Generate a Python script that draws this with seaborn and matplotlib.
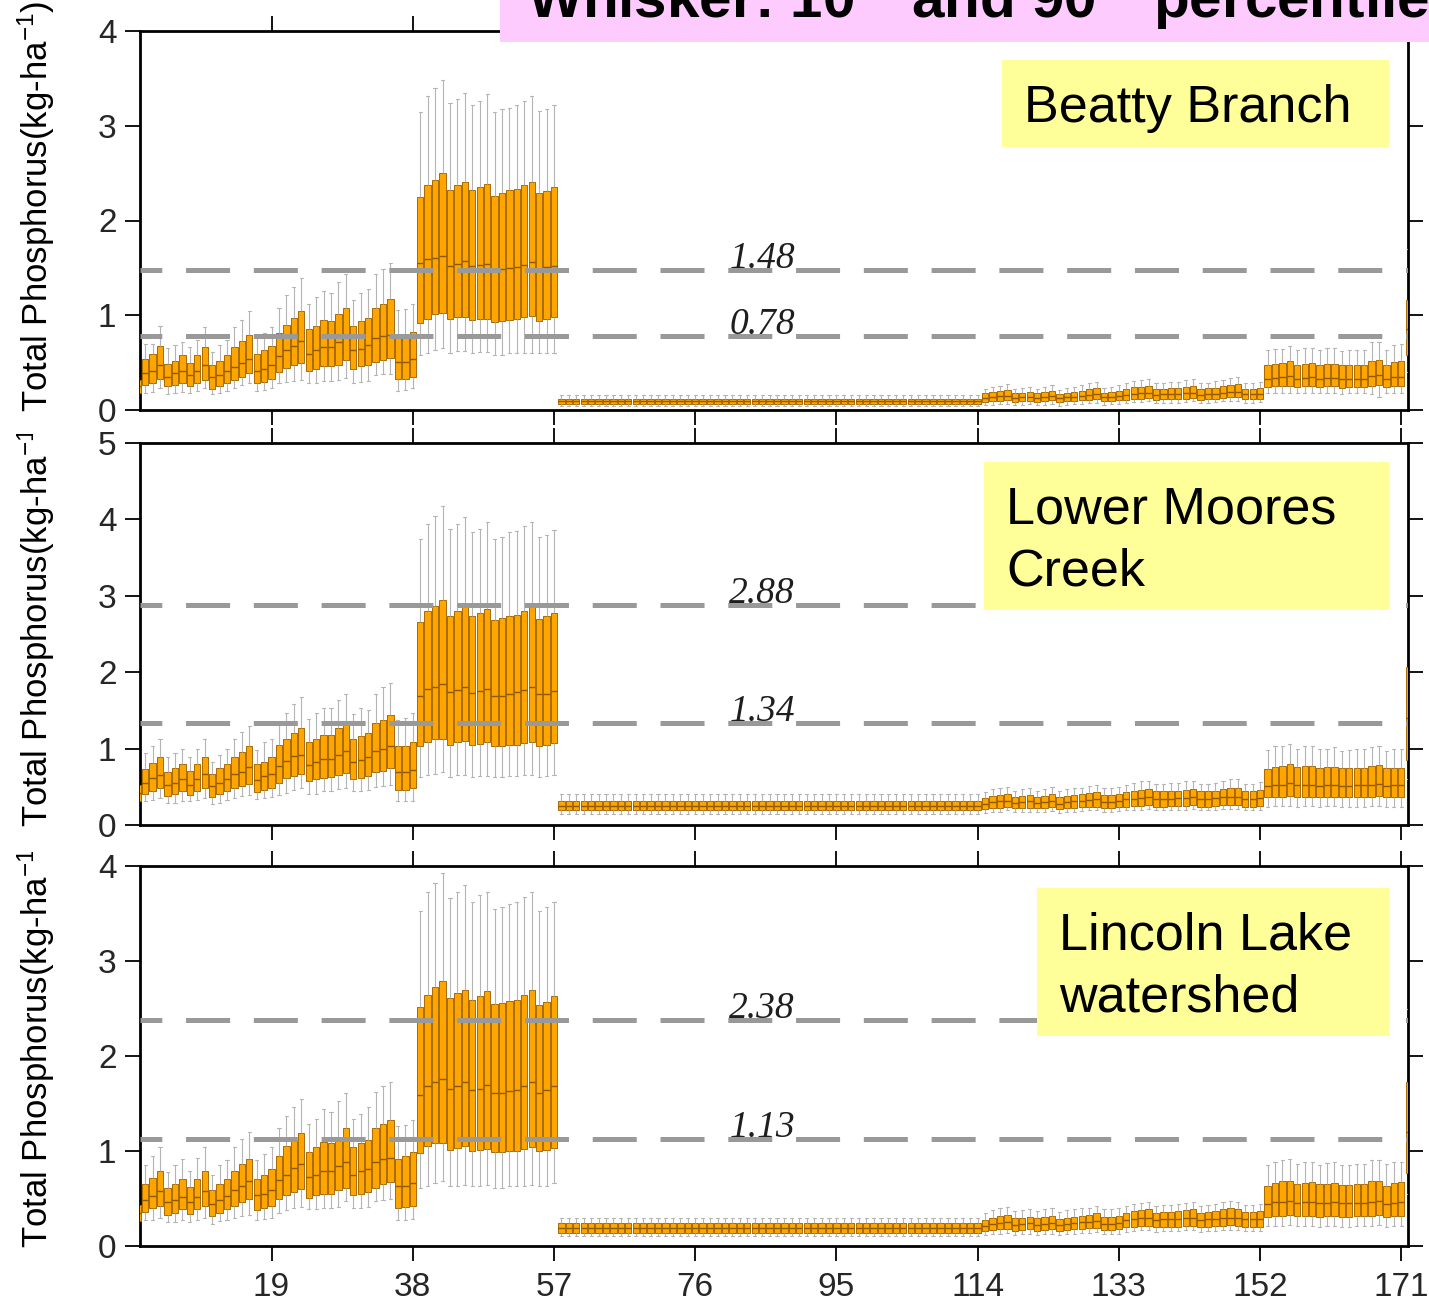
import matplotlib
matplotlib.use("Agg")
import matplotlib.pyplot as plt
from matplotlib.patches import Rectangle
from matplotlib.transforms import Bbox, TransformedBbox
import pandas as pd
import seaborn as sns

# ---------------------------------------------------------------------------
# Box statistics per simulation run (positions 1..172; 172 sits on the edge)
# ---------------------------------------------------------------------------
POSITIONS = list(range(1, 173))
XTICKS = [19, 38, 57, 76, 95, 114, 133, 152, 171]

# ---- Beatty Branch ---------------------------------------------------------
BB_Q1 = ([0.18, 0.26, 0.29, 0.33, 0.25, 0.26, 0.29, 0.25, 0.29, 0.32, 0.22, 0.25, 0.29, 0.32, 0.35, 0.39, 0.28, 0.30, 0.33,
          0.40, 0.44, 0.47, 0.50, 0.41, 0.43, 0.46, 0.46, 0.48, 0.53, 0.43, 0.46, 0.47, 0.51, 0.53, 0.55, 0.33, 0.33, 0.35,
          0.92, 0.96, 1.01, 1.02, 0.96, 0.98, 0.98, 0.95, 0.96, 0.96, 0.93, 0.94, 0.95, 0.96, 0.98, 0.99, 0.94, 0.96, 0.98]
         + [0.065] * 57
         + [0.088, 0.095, 0.098, 0.105, 0.088, 0.095, 0.098, 0.088, 0.095, 0.105, 0.08, 0.09, 0.098, 0.105, 0.11, 0.115, 0.095, 0.098, 0.105,
            0.11, 0.12, 0.12, 0.13, 0.11, 0.115, 0.115, 0.115, 0.12, 0.13, 0.11, 0.115, 0.12, 0.13, 0.133, 0.137, 0.115, 0.115, 0.12]
         + [0.24, 0.25, 0.25, 0.25, 0.24, 0.25, 0.25, 0.24, 0.25, 0.25, 0.235, 0.24, 0.24, 0.24, 0.25, 0.26, 0.24, 0.25, 0.25]
         + [0.58])
BB_MED = ([0.25, 0.39, 0.41, 0.48, 0.35, 0.39, 0.41, 0.37, 0.41, 0.47, 0.35, 0.37, 0.41, 0.45, 0.50, 0.54, 0.41, 0.43, 0.48,
           0.57, 0.63, 0.68, 0.73, 0.59, 0.63, 0.67, 0.67, 0.72, 0.77, 0.63, 0.64, 0.69, 0.76, 0.78, 0.79, 0.51, 0.51, 0.54,
           1.55, 1.59, 1.60, 1.63, 1.52, 1.54, 1.57, 1.52, 1.53, 1.54, 1.48, 1.49, 1.50, 1.51, 1.53, 1.56, 1.49, 1.51, 1.52]
          + [0.095] * 57
          + [0.13, 0.14, 0.145, 0.15, 0.13, 0.135, 0.14, 0.13, 0.14, 0.15, 0.125, 0.135, 0.14, 0.15, 0.16, 0.165, 0.135, 0.14, 0.15,
             0.16, 0.17, 0.175, 0.18, 0.16, 0.165, 0.17, 0.17, 0.175, 0.18, 0.16, 0.165, 0.17, 0.18, 0.19, 0.195, 0.165, 0.165, 0.17]
          + [0.33, 0.34, 0.35, 0.36, 0.33, 0.34, 0.35, 0.33, 0.34, 0.34, 0.33, 0.33, 0.33, 0.33, 0.36, 0.37, 0.33, 0.35, 0.35]
          + [0.85])
BB_Q3 = ([0.32, 0.54, 0.59, 0.68, 0.49, 0.52, 0.58, 0.50, 0.58, 0.66, 0.47, 0.52, 0.58, 0.66, 0.73, 0.79, 0.59, 0.63, 0.68,
          0.81, 0.90, 0.97, 1.04, 0.85, 0.89, 0.95, 0.94, 1.01, 1.08, 0.89, 0.94, 0.97, 1.08, 1.12, 1.17, 0.77, 0.77, 0.82,
          2.25, 2.37, 2.43, 2.50, 2.32, 2.37, 2.41, 2.32, 2.35, 2.39, 2.26, 2.29, 2.32, 2.33, 2.37, 2.41, 2.29, 2.31, 2.35]
         + [0.12] * 57
         + [0.175, 0.19, 0.20, 0.21, 0.175, 0.18, 0.19, 0.175, 0.185, 0.20, 0.17, 0.18, 0.19, 0.20, 0.22, 0.23, 0.18, 0.19, 0.20,
            0.22, 0.24, 0.245, 0.25, 0.22, 0.22, 0.23, 0.23, 0.245, 0.25, 0.22, 0.23, 0.235, 0.25, 0.26, 0.27, 0.22, 0.22, 0.23]
         + [0.47, 0.49, 0.50, 0.52, 0.48, 0.49, 0.50, 0.47, 0.49, 0.49, 0.47, 0.47, 0.47, 0.47, 0.52, 0.53, 0.47, 0.51, 0.52]
         + [1.16])
BB_LO = ([0.15, 0.18, 0.19, 0.23, 0.165, 0.18, 0.19, 0.18, 0.20, 0.23, 0.165, 0.18, 0.20, 0.23, 0.26, 0.28, 0.20, 0.21, 0.23,
          0.28, 0.30, 0.305, 0.32, 0.29, 0.29, 0.31, 0.31, 0.32, 0.34, 0.29, 0.30, 0.31, 0.37, 0.38, 0.38, 0.20, 0.21, 0.23,
          0.58, 0.60, 0.63, 0.65, 0.60, 0.62, 0.62, 0.60, 0.61, 0.61, 0.58, 0.58, 0.60, 0.60, 0.60, 0.60, 0.60, 0.60, 0.60]
         + [0.04] * 57
         + [0.05, 0.055, 0.06, 0.065, 0.05, 0.055, 0.06, 0.05, 0.055, 0.065, 0.045, 0.05, 0.06, 0.065, 0.07, 0.075, 0.055, 0.06, 0.065,
            0.07, 0.08, 0.08, 0.09, 0.07, 0.075, 0.075, 0.075, 0.08, 0.09, 0.07, 0.075, 0.08, 0.09, 0.09, 0.095, 0.075, 0.075, 0.08]
         + [0.175, 0.18, 0.18, 0.18, 0.175, 0.18, 0.18, 0.175, 0.18, 0.18, 0.17, 0.175, 0.175, 0.175, 0.17, 0.14, 0.175, 0.18, 0.18]
         + [0.40])
BB_HI = ([0.36, 0.70, 0.70, 0.89, 0.65, 0.69, 0.72, 0.66, 0.74, 0.88, 0.61, 0.69, 0.74, 0.88, 0.95, 1.04, 0.76, 0.81, 0.88,
          1.08, 1.21, 1.30, 1.39, 1.12, 1.19, 1.26, 1.24, 1.35, 1.44, 1.16, 1.24, 1.28, 1.44, 1.49, 1.55, 1.06, 1.07, 1.12,
          3.15, 3.31, 3.40, 3.48, 3.24, 3.28, 3.35, 3.22, 3.26, 3.33, 3.15, 3.18, 3.19, 3.22, 3.26, 3.31, 3.16, 3.18, 3.22]
         + [0.16] * 57
         + [0.22, 0.24, 0.25, 0.27, 0.22, 0.23, 0.24, 0.22, 0.24, 0.26, 0.21, 0.23, 0.24, 0.26, 0.28, 0.30, 0.23, 0.24, 0.26,
            0.28, 0.31, 0.32, 0.33, 0.28, 0.29, 0.30, 0.30, 0.32, 0.33, 0.28, 0.29, 0.31, 0.32, 0.34, 0.35, 0.28, 0.28, 0.30]
         + [0.63, 0.64, 0.64, 0.68, 0.63, 0.65, 0.65, 0.63, 0.65, 0.65, 0.62, 0.63, 0.63, 0.63, 0.72, 0.72, 0.63, 0.69, 0.70]
         + [1.70])

# ---- Lower Moores Creek ----------------------------------------------------
LM_Q1 = ([0.31, 0.41, 0.45, 0.48, 0.38, 0.41, 0.44, 0.39, 0.44, 0.48, 0.37, 0.41, 0.44, 0.48, 0.51, 0.54, 0.43, 0.46, 0.49,
          0.55, 0.61, 0.64, 0.67, 0.57, 0.60, 0.62, 0.63, 0.66, 0.68, 0.60, 0.62, 0.64, 0.69, 0.71, 0.74, 0.46, 0.46, 0.48,
          1.03, 1.08, 1.12, 1.13, 1.05, 1.08, 1.10, 1.05, 1.06, 1.08, 1.03, 1.04, 1.05, 1.05, 1.07, 1.08, 1.04, 1.05, 1.07]
         + [0.19] * 57
         + [0.205, 0.22, 0.227, 0.24, 0.22, 0.22, 0.227, 0.22, 0.22, 0.236, 0.21, 0.22, 0.227, 0.236, 0.24, 0.24, 0.22, 0.22, 0.236,
            0.24, 0.25, 0.253, 0.26, 0.24, 0.24, 0.25, 0.25, 0.253, 0.26, 0.24, 0.24, 0.25, 0.257, 0.26, 0.26, 0.24, 0.24, 0.25]
         + [0.36, 0.37, 0.37, 0.38, 0.37, 0.37, 0.37, 0.36, 0.37, 0.37, 0.36, 0.36, 0.37, 0.37, 0.37, 0.38, 0.36, 0.37, 0.37]
         + [0.85])
LM_MED = ([0.42, 0.55, 0.61, 0.66, 0.53, 0.55, 0.60, 0.53, 0.60, 0.67, 0.51, 0.55, 0.60, 0.67, 0.70, 0.76, 0.59, 0.64, 0.67,
           0.77, 0.84, 0.90, 0.92, 0.78, 0.83, 0.86, 0.86, 0.92, 0.97, 0.83, 0.85, 0.89, 0.97, 1.00, 1.03, 0.69, 0.69, 0.72,
           1.69, 1.78, 1.80, 1.85, 1.74, 1.77, 1.80, 1.73, 1.75, 1.78, 1.69, 1.69, 1.72, 1.74, 1.77, 1.80, 1.72, 1.72, 1.75]
          + [0.25] * 57
          + [0.28, 0.30, 0.31, 0.32, 0.29, 0.30, 0.31, 0.29, 0.30, 0.32, 0.28, 0.30, 0.31, 0.32, 0.33, 0.335, 0.30, 0.30, 0.32,
             0.335, 0.345, 0.355, 0.36, 0.34, 0.34, 0.345, 0.35, 0.355, 0.36, 0.34, 0.34, 0.35, 0.36, 0.37, 0.37, 0.34, 0.34, 0.355]
          + [0.51, 0.52, 0.53, 0.55, 0.52, 0.52, 0.53, 0.51, 0.52, 0.52, 0.51, 0.51, 0.52, 0.52, 0.53, 0.54, 0.51, 0.52, 0.52]
          + [1.40])
LM_Q3 = ([0.52, 0.73, 0.81, 0.89, 0.69, 0.74, 0.80, 0.71, 0.80, 0.89, 0.67, 0.74, 0.80, 0.89, 0.95, 1.03, 0.80, 0.83, 0.89,
          1.05, 1.13, 1.21, 1.27, 1.08, 1.13, 1.18, 1.18, 1.27, 1.31, 1.13, 1.17, 1.21, 1.33, 1.38, 1.44, 1.03, 1.03, 1.08,
          2.66, 2.80, 2.87, 2.95, 2.74, 2.80, 2.85, 2.74, 2.77, 2.83, 2.68, 2.71, 2.74, 2.75, 2.80, 2.85, 2.70, 2.73, 2.77]
         + [0.32] * 57
         + [0.35, 0.38, 0.39, 0.41, 0.37, 0.38, 0.39, 0.37, 0.38, 0.41, 0.36, 0.38, 0.39, 0.40, 0.42, 0.43, 0.39, 0.39, 0.41,
            0.43, 0.445, 0.46, 0.47, 0.44, 0.44, 0.445, 0.45, 0.46, 0.47, 0.44, 0.44, 0.45, 0.47, 0.48, 0.48, 0.44, 0.44, 0.46]
         + [0.73, 0.76, 0.77, 0.80, 0.755, 0.77, 0.77, 0.74, 0.755, 0.76, 0.74, 0.74, 0.75, 0.75, 0.77, 0.785, 0.74, 0.74, 0.75]
         + [2.07])
LM_LO = ([0.28, 0.31, 0.33, 0.35, 0.29, 0.29, 0.31, 0.31, 0.33, 0.35, 0.27, 0.29, 0.33, 0.35, 0.38, 0.39, 0.34, 0.35, 0.36,
          0.39, 0.42, 0.46, 0.48, 0.41, 0.41, 0.44, 0.44, 0.47, 0.49, 0.44, 0.45, 0.46, 0.50, 0.51, 0.52, 0.31, 0.31, 0.32,
          0.63, 0.65, 0.67, 0.69, 0.63, 0.65, 0.65, 0.63, 0.64, 0.64, 0.63, 0.63, 0.64, 0.64, 0.65, 0.65, 0.63, 0.64, 0.65]
         + [0.14] * 57
         + [0.155, 0.17, 0.175, 0.19, 0.17, 0.17, 0.175, 0.17, 0.17, 0.185, 0.16, 0.17, 0.175, 0.185, 0.19, 0.19, 0.17, 0.17, 0.185,
            0.19, 0.20, 0.20, 0.21, 0.19, 0.19, 0.20, 0.20, 0.20, 0.21, 0.19, 0.19, 0.20, 0.205, 0.21, 0.21, 0.19, 0.19, 0.20]
         + [0.24, 0.245, 0.245, 0.25, 0.24, 0.245, 0.245, 0.24, 0.245, 0.245, 0.235, 0.24, 0.24, 0.24, 0.245, 0.25, 0.235, 0.24, 0.24]
         + [0.60])
LM_HI = ([0.60, 0.94, 1.03, 1.13, 0.89, 0.94, 1.00, 0.89, 1.00, 1.13, 0.83, 0.92, 1.00, 1.13, 1.22, 1.30, 0.98, 1.08, 1.13,
          1.32, 1.47, 1.58, 1.67, 1.39, 1.47, 1.53, 1.53, 1.64, 1.72, 1.45, 1.53, 1.51, 1.72, 1.80, 1.86, 1.37, 1.40, 1.47,
          3.74, 3.94, 4.05, 4.17, 3.88, 3.94, 4.03, 3.83, 3.88, 3.97, 3.74, 3.77, 3.83, 3.85, 3.92, 3.97, 3.77, 3.80, 3.86]
         + [0.41] * 57
         + [0.43, 0.47, 0.48, 0.50, 0.45, 0.47, 0.48, 0.45, 0.47, 0.50, 0.44, 0.47, 0.48, 0.49, 0.51, 0.53, 0.48, 0.48, 0.50,
            0.53, 0.55, 0.57, 0.58, 0.54, 0.54, 0.55, 0.55, 0.57, 0.58, 0.54, 0.54, 0.55, 0.58, 0.60, 0.60, 0.54, 0.54, 0.56]
         + [0.98, 1.03, 1.03, 1.06, 1.00, 1.03, 1.03, 1.00, 1.00, 1.02, 0.97, 0.98, 1.00, 1.00, 1.02, 1.03, 0.97, 1.00, 1.00]
         + [2.90])

# ---- Lincoln Lake watershed -------------------------------------------------
LL_Q1 = ([0.26, 0.36, 0.40, 0.42, 0.33, 0.35, 0.39, 0.34, 0.39, 0.42, 0.32, 0.35, 0.39, 0.42, 0.46, 0.49, 0.38, 0.40, 0.42,
          0.49, 0.54, 0.57, 0.60, 0.51, 0.54, 0.55, 0.55, 0.59, 0.61, 0.54, 0.55, 0.57, 0.61, 0.65, 0.67, 0.40, 0.41, 0.42,
          0.98, 1.05, 1.08, 1.08, 1.01, 1.03, 1.05, 1.00, 1.01, 1.02, 0.99, 0.99, 1.00, 1.00, 1.02, 1.04, 1.00, 1.01, 1.03]
         + [0.14] * 57
         + [0.16, 0.17, 0.175, 0.18, 0.16, 0.17, 0.175, 0.16, 0.17, 0.175, 0.158, 0.17, 0.175, 0.18, 0.186, 0.193, 0.17, 0.17, 0.175,
            0.196, 0.204, 0.21, 0.214, 0.196, 0.204, 0.204, 0.204, 0.21, 0.214, 0.196, 0.204, 0.207, 0.214, 0.218, 0.214, 0.204, 0.204, 0.204]
         + [0.31, 0.32, 0.32, 0.33, 0.32, 0.32, 0.32, 0.31, 0.32, 0.32, 0.31, 0.31, 0.32, 0.32, 0.32, 0.33, 0.31, 0.32, 0.32]
         + [0.77])
LL_MED = ([0.35, 0.48, 0.53, 0.58, 0.46, 0.48, 0.52, 0.46, 0.52, 0.58, 0.44, 0.48, 0.53, 0.59, 0.63, 0.68, 0.54, 0.55, 0.59,
           0.70, 0.75, 0.82, 0.86, 0.73, 0.75, 0.79, 0.79, 0.84, 0.88, 0.75, 0.79, 0.81, 0.88, 0.92, 0.93, 0.63, 0.63, 0.66,
           1.59, 1.68, 1.73, 1.76, 1.65, 1.68, 1.73, 1.64, 1.65, 1.69, 1.61, 1.61, 1.63, 1.64, 1.68, 1.73, 1.61, 1.64, 1.68]
          + [0.19] * 57
          + [0.21, 0.23, 0.24, 0.25, 0.22, 0.23, 0.24, 0.225, 0.235, 0.245, 0.22, 0.23, 0.24, 0.25, 0.255, 0.265, 0.235, 0.235, 0.245,
             0.27, 0.285, 0.29, 0.295, 0.27, 0.28, 0.28, 0.285, 0.29, 0.295, 0.27, 0.28, 0.285, 0.295, 0.30, 0.295, 0.28, 0.28, 0.285]
          + [0.44, 0.46, 0.46, 0.47, 0.45, 0.46, 0.46, 0.45, 0.45, 0.46, 0.45, 0.45, 0.45, 0.45, 0.46, 0.47, 0.44, 0.45, 0.46]
          + [1.20])
LL_Q3 = ([0.43, 0.65, 0.72, 0.79, 0.61, 0.65, 0.71, 0.62, 0.71, 0.79, 0.59, 0.65, 0.71, 0.79, 0.86, 0.92, 0.71, 0.75, 0.81,
          0.95, 1.05, 1.11, 1.19, 0.99, 1.04, 1.09, 1.08, 1.15, 1.24, 1.04, 1.08, 1.12, 1.24, 1.28, 1.33, 0.92, 0.95, 0.99,
          2.52, 2.64, 2.73, 2.79, 2.61, 2.66, 2.70, 2.59, 2.63, 2.68, 2.55, 2.56, 2.58, 2.59, 2.64, 2.70, 2.54, 2.57, 2.63]
         + [0.246] * 57
         + [0.27, 0.30, 0.32, 0.33, 0.29, 0.30, 0.31, 0.295, 0.31, 0.32, 0.285, 0.30, 0.31, 0.32, 0.33, 0.344, 0.31, 0.31, 0.32,
            0.35, 0.37, 0.38, 0.386, 0.35, 0.36, 0.36, 0.37, 0.38, 0.386, 0.35, 0.36, 0.37, 0.386, 0.396, 0.386, 0.36, 0.36, 0.37]
         + [0.63, 0.66, 0.68, 0.68, 0.65, 0.66, 0.67, 0.65, 0.65, 0.66, 0.64, 0.64, 0.65, 0.65, 0.68, 0.68, 0.635, 0.66, 0.67]
         + [1.73])
LL_LO = ([0.22, 0.27, 0.27, 0.29, 0.25, 0.25, 0.27, 0.25, 0.27, 0.30, 0.23, 0.26, 0.27, 0.30, 0.32, 0.33, 0.27, 0.28, 0.30,
          0.35, 0.38, 0.40, 0.41, 0.39, 0.39, 0.40, 0.40, 0.41, 0.47, 0.40, 0.40, 0.41, 0.47, 0.48, 0.49, 0.27, 0.27, 0.28,
          0.61, 0.63, 0.66, 0.68, 0.63, 0.63, 0.64, 0.63, 0.63, 0.64, 0.61, 0.61, 0.63, 0.63, 0.63, 0.64, 0.63, 0.63, 0.66]
         + [0.11] * 57
         + [0.115, 0.125, 0.13, 0.135, 0.115, 0.125, 0.13, 0.115, 0.125, 0.13, 0.113, 0.125, 0.13, 0.135, 0.14, 0.148, 0.125, 0.125, 0.13,
            0.15, 0.16, 0.165, 0.17, 0.15, 0.16, 0.16, 0.16, 0.165, 0.17, 0.15, 0.16, 0.162, 0.17, 0.173, 0.17, 0.16, 0.16, 0.16]
         + [0.21, 0.21, 0.21, 0.22, 0.21, 0.21, 0.21, 0.205, 0.21, 0.21, 0.205, 0.205, 0.21, 0.21, 0.21, 0.22, 0.205, 0.21, 0.21]
         + [0.55])
LL_HI = ([0.55, 0.85, 0.95, 1.04, 0.78, 0.85, 0.92, 0.79, 0.93, 1.04, 0.75, 0.85, 0.91, 1.04, 1.13, 1.20, 0.91, 0.97, 1.04,
          1.24, 1.37, 1.46, 1.55, 1.28, 1.34, 1.44, 1.41, 1.53, 1.61, 1.34, 1.39, 1.46, 1.62, 1.68, 1.73, 1.26, 1.27, 1.33,
          3.53, 3.73, 3.82, 3.93, 3.66, 3.73, 3.80, 3.62, 3.69, 3.73, 3.55, 3.57, 3.60, 3.62, 3.67, 3.73, 3.53, 3.57, 3.62]
         + [0.30] * 57
         + [0.345, 0.375, 0.395, 0.41, 0.365, 0.375, 0.385, 0.37, 0.385, 0.395, 0.36, 0.375, 0.385, 0.395, 0.405, 0.42, 0.385, 0.385, 0.395,
            0.425, 0.445, 0.455, 0.46, 0.425, 0.435, 0.435, 0.445, 0.455, 0.46, 0.425, 0.435, 0.445, 0.46, 0.47, 0.46, 0.435, 0.435, 0.445]
         + [0.85, 0.88, 0.905, 0.92, 0.86, 0.88, 0.88, 0.85, 0.87, 0.88, 0.85, 0.85, 0.86, 0.86, 0.905, 0.905, 0.86, 0.88, 0.88]
         + [2.50])

# Reference levels drawn as dashed lines: (upper, lower)
BB_LEVELS = [1.48, 0.78]
LM_LEVELS = [2.88, 1.34]
LL_LEVELS = [2.38, 1.13]

PANELS = [
    dict(title=["Beatty Branch"], lo=BB_LO, q1=BB_Q1, med=BB_MED, q3=BB_Q3, hi=BB_HI,
         levels=BB_LEVELS, ymax=4, px=(140, 31, 1408, 410),
         box=(1002, 60, 1389, 147), text_x=1024, baselines=[122], label_clip=None),
    dict(title=["Lower Moores", "Creek"], lo=LM_LO, q1=LM_Q1, med=LM_MED, q3=LM_Q3, hi=LM_HI,
         levels=LM_LEVELS, ymax=5, px=(140, 443, 1408, 825),
         box=(984, 462, 1389, 610), text_x=1006, baselines=[524, 585], label_clip=434),
    dict(title=["Lincoln Lake", "watershed"], lo=LL_LO, q1=LL_Q1, med=LL_MED, q3=LL_Q3, hi=LL_HI,
         levels=LL_LEVELS, ymax=4, px=(140, 866, 1408, 1246),
         box=(1037, 888, 1389, 1036), text_x=1059, baselines=[950, 1012], label_clip=852),
]

# ---------------------------------------------------------------------------
sns.set_style("ticks")
plt.rcParams["font.family"] = ["Liberation Sans", "DejaVu Sans"]
plt.rcParams["mathtext.fontset"] = "custom"
plt.rcParams["mathtext.rm"] = "Liberation Sans"
plt.rcParams["mathtext.it"] = "Liberation Sans:italic"
plt.rcParams["mathtext.bf"] = "Liberation Sans:bold"
plt.rcParams["lines.scale_dashes"] = False

W, H = 1429, 1308
fig = plt.figure(figsize=(W / 100, H / 100), dpi=100)
fig.patch.set_facecolor("white")


def fx(x):
    return x / W


def fy(y):
    return 1 - y / H


BOX_FACE = "#FFA500"
BOX_EDGE = "#A86A00"
MEDIAN = "#8C5800"
WHISKER = "#B4B4B4"
LEVEL = "#999999"

for i, p in enumerate(PANELS):
    x0, y0, x1, y1 = p["px"]
    ax = fig.add_axes([fx(x0), fy(y1), fx(x1) - fx(x0), fy(y0) - fy(y1)])

    rows = []
    for k, pos in enumerate(POSITIONS):
        for v in (p["lo"][k], p["q1"][k], p["med"][k], p["q3"][k], p["hi"][k]):
            rows.append((pos, v))
    df = pd.DataFrame(rows, columns=["run", "value"])

    sns.boxplot(data=df, x="run", y="value", native_scale=True, whis=(0, 100),
                width=0.85, color=BOX_FACE, saturation=1, linecolor=BOX_EDGE,
                linewidth=0.7, fliersize=0, ax=ax, zorder=3,
                whiskerprops=dict(color=WHISKER, linewidth=0.8),
                capprops=dict(color=WHISKER, linewidth=0.8),
                medianprops=dict(color=MEDIAN, linewidth=1.0))

    for lv in p["levels"]:
        ax.axhline(lv, color=LEVEL, lw=3.6, linestyle=(16, (31.7, 17.1)), zorder=4)
        ax.annotate(f"{lv:.2f}", xy=(85, lv), xytext=(0, 1.5), textcoords="offset points",
                    ha="center", va="baseline", fontsize=27, fontstyle="italic",
                    family=["Liberation Serif", "DejaVu Serif"], color="#1e1e1e", zorder=5)

    ax.set_xlim(1.3, 171.9)
    ax.set_ylim(0, p["ymax"])
    ax.set_xticks(XTICKS)
    ax.set_yticks(list(range(p["ymax"] + 1)))
    ax.set_xlabel("")
    ax.set_ylabel("")
    ax.set_facecolor("white")
    ax.tick_params(axis="both", direction="out", length=11, width=1.3, color="black",
                   labelsize=24, top=True, right=True, bottom=True, left=True,
                   labeltop=False, labelright=False, labelbottom=(i == 2))
    ax.tick_params(axis="x", pad=8)
    ax.tick_params(axis="y", pad=6)
    for sp in ax.spines.values():
        sp.set_visible(True)
        sp.set_color("black")
        sp.set_linewidth(2.0)

    # site label box
    bx0, by0, bx1, by1 = p["box"]
    fig.add_artist(Rectangle((fx(bx0), fy(by1)), fx(bx1) - fx(bx0), fy(by0) - fy(by1),
                             transform=fig.transFigure, facecolor="#FFFF99",
                             edgecolor="none", zorder=6))
    for line, base in zip(p["title"], p["baselines"]):
        fig.text(fx(p["text_x"]), fy(base), line, fontsize=37.5, ha="left",
                 va="baseline", color="black", zorder=7)

    # y-axis label, starting at the panel bottom
    lab = fig.text(fx(36), fy(y1 + 2), "Total Phosphorus(kg-ha$^{-1}$)", rotation=90,
                   ha="center", va="bottom", fontsize=25, color="black", zorder=1)
    if p["label_clip"] is not None:
        lab.set_clip_box(TransformedBbox(Bbox.from_extents(0, 0, 1, fy(p["label_clip"])),
                                         fig.transFigure))
        lab.set_clip_on(True)

# header band
fig.add_artist(Rectangle((fx(500), fy(42)), 1 - fx(500), fy(0) - fy(42),
                         transform=fig.transFigure, facecolor="#FDCBFD",
                         edgecolor="none", zorder=6))
fig.text(fx(527), fy(17), r"Whisker: 10$^{\mathbf{th}}$ and 90$^{\mathbf{th}}$ percentile",
         fontsize=42, fontweight="bold", ha="left", va="baseline", color="black", zorder=7)

fig.savefig("out.png", dpi=100, facecolor="white")
